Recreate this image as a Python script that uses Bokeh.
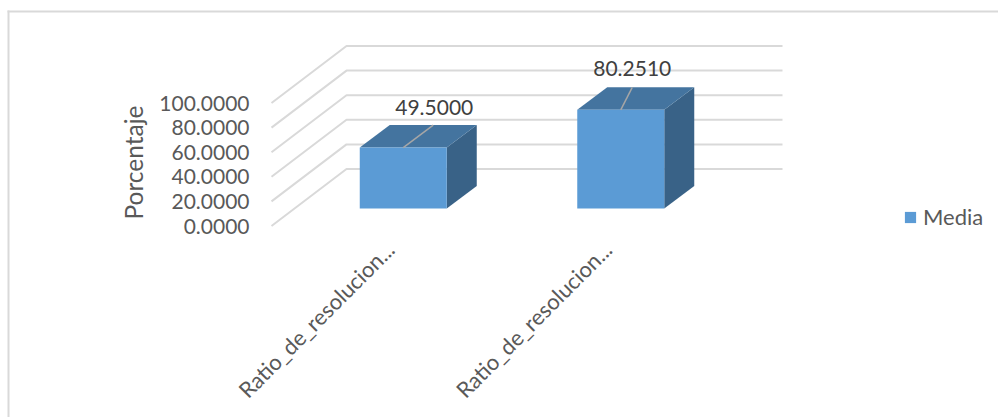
from bokeh.embed import file_html
from bokeh.resources import INLINE
from bokeh.plotting import figure
from bokeh.models import (BoxAnnotation, FixedTicker, Label, Legend, LegendItem, LinearAxis,
                          NumeralTickFormatter, Range1d)
from bokeh.core.properties import value
from math import pi

# Chart data
categories = ["Ratio_de_resolucion...", "Ratio_de_resolucion..."]
media = [49.5, 80.251]
value_ticks = [0, 20, 40, 60, 80, 100]
axis_title = "Porcentaje"
series_name = "Media"

# Projection of the pseudo-3D box, in screen pixels
W, H = 998, 417
WALL_L = 271
PX_Y = 1.23            # pixels per percentage point
PX_X = 217.5           # pixels between category slots
FLOOR_X0 = 402.75      # centre of the first slot
FLOOR_Y0 = 208         # baseline of the bar front faces
WALL_Y0 = 225.5        # where zero sits on the value axis
LABEL_SHIFT = 13       # category labels end left of the slot centre
BAR_W = 87 / PX_X
DEPTH_X, DEPTH_Y = 30 / PX_X, 22.5 / PX_Y
WALL_FRONT_DY = -17.5 / PX_Y
WALL_BACK_DY = 39.5 / PX_Y
WALL_BACK_X = (346 - FLOOR_X0) / PX_X
WALL_FRONT_X = (WALL_L - FLOOR_X0) / PX_X
WALL_END_X = (782 - FLOOR_X0) / PX_X

# Label anchors relative to each bar's front top-centre, in pixels
LABEL_DX = [31, 11.5]
LABEL_DY = [40, 41.5]
LEADER_DX = [30, 11.5]
LEADER_DY = [22.5, 22.5]

FRONT, TOP, SIDE = "#5B9BD5", "#44749F", "#396287"
GRID = "#D9D9D9"
FONT = "Lato"
NUMBER_PX = "21px"

# The frame fills the page, so nothing is cut off at its edges
p = figure(
    width=W, height=H, output_backend="svg", toolbar_location=None,
    x_range=Range1d(-FLOOR_X0 / PX_X, (W - FLOOR_X0) / PX_X),
    y_range=Range1d((FLOOR_Y0 - H) / PX_Y, FLOOR_Y0 / PX_Y),
    x_axis_location=None, y_axis_location=None,
    min_border_left=0, min_border_right=0, min_border_top=0, min_border_bottom=0,
    outline_line_color=None,
)
p.grid.visible = False

# Value axis sits on the front edge of the side wall
p.extra_y_ranges = {"wall": Range1d((WALL_Y0 - H) / PX_Y, WALL_Y0 / PX_Y)}
yaxis = LinearAxis(
    y_range_name="wall", ticker=FixedTicker(ticks=value_ticks),
    formatter=NumeralTickFormatter(format="0.0000"),
    fixed_location=WALL_FRONT_X, axis_line_color=None,
    major_tick_line_color=None, minor_tick_line_color=None,
    major_tick_in=0, major_tick_out=0, major_label_standoff=22,
    major_label_text_font=FONT, major_label_text_font_size=NUMBER_PX,
    major_label_text_color="#595959",
)
p.add_layout(yaxis, "left")
p.add_layout(Label(
    x=133, y=H - 162, x_units="screen", y_units="screen", text=axis_title, angle=pi / 2,
    text_align="center", text_baseline="middle", text_font=FONT, text_font_size="24.5px",
    text_color="#595959",
))

# Category axis under the floor, labels at 45 degrees
p.extra_x_ranges = {"slots": Range1d((LABEL_SHIFT - FLOOR_X0) / PX_X, (W + LABEL_SHIFT - FLOOR_X0) / PX_X)}
xaxis = LinearAxis(
    x_range_name="slots", ticker=FixedTicker(ticks=list(range(len(categories)))),
    major_label_overrides={i: c for i, c in enumerate(categories)},
    major_label_orientation=pi / 4, fixed_location=(FLOOR_Y0 - 239) / PX_Y,
    axis_line_color=None, major_tick_line_color=None, minor_tick_line_color=None,
    major_tick_in=0, major_tick_out=0, major_label_standoff=6,
    major_label_text_font=FONT, major_label_text_font_size="22px",
    major_label_text_color="#595959",
)
p.add_layout(xaxis, "below")

# Gridlines folded along the side wall and back wall
grid_xs = [[WALL_FRONT_X, WALL_BACK_X, WALL_END_X] for _ in value_ticks]
grid_ys = [[v + WALL_FRONT_DY, v + WALL_BACK_DY, v + WALL_BACK_DY] for v in value_ticks]
p.multi_line(grid_xs, grid_ys, line_color=GRID, line_width=2)

# Bars: side and top faces behind the front face
idx = list(range(len(media)))
side_xs = [[i + BAR_W / 2, i + BAR_W / 2 + DEPTH_X, i + BAR_W / 2 + DEPTH_X, i + BAR_W / 2] for i in idx]
side_ys = [[0, DEPTH_Y, m + DEPTH_Y, m] for m in media]
p.patches(side_xs, side_ys, fill_color=SIDE, line_color=None)
top_xs = [[i - BAR_W / 2, i + BAR_W / 2, i + BAR_W / 2 + DEPTH_X, i - BAR_W / 2 + DEPTH_X] for i in idx]
top_ys = [[m, m, m + DEPTH_Y, m + DEPTH_Y] for m in media]
p.patches(top_xs, top_ys, fill_color=TOP, line_color=None)
front = p.vbar(x=idx, bottom=0, top=media, width=BAR_W, fill_color=FRONT, line_color=None)

# Leader lines and value labels
leader_xs = [[i, i + d / PX_X] for i, d in zip(idx, LEADER_DX)]
leader_ys = [[m, m + d / PX_Y] for m, d in zip(media, LEADER_DY)]
p.multi_line(leader_xs, leader_ys, line_color="#A6A6A6", line_width=1.5)
p.text(
    x=[i + d / PX_X for i, d in zip(idx, LABEL_DX)],
    y=[m + d / PX_Y for m, d in zip(media, LABEL_DY)],
    text=[f"{m:.4f}" for m in media],
    text_align="center", text_baseline="middle", text_color="#404040",
    text_font=value(FONT), text_font_size=NUMBER_PX,
)

# Legend to the right of the plot
legend = Legend(
    items=[LegendItem(label=series_name, renderers=[front])],
    location=(903, H - 230), padding=0, margin=0,
    glyph_width=14, glyph_height=14, label_standoff=6,
    label_text_font=FONT, label_text_font_size="22px", label_text_color="#595959",
    background_fill_alpha=0, border_line_color=None,
)
p.add_layout(legend, "center")

# Chart-area border, top and left sides only
for box in (dict(left=7, right=W, top=10, bottom=12), dict(left=7, right=9, top=10, bottom=H)):
    p.add_layout(BoxAnnotation(
        left_units="canvas", right_units="canvas", top_units="canvas", bottom_units="canvas",
        fill_color=GRID, fill_alpha=1, line_color=None, **box))

open("out.html", "w").write(file_html(p, INLINE))
